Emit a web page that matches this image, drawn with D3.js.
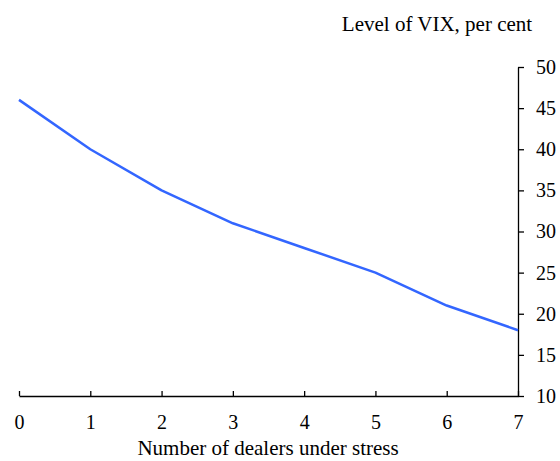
<!DOCTYPE html>
<html>
<head>
<meta charset="utf-8">
<script src="https://cdn.jsdelivr.net/npm/d3@7"></script>
<style>
  html, body { margin: 0; padding: 0; background: #fff; }
  svg { display: block; }
  text { font-family: "Liberation Serif", "Times New Roman", serif; fill: #000; }
</style>
</head>
<body>
<svg id="chart" width="560" height="461"></svg>
<script>
const dealers = [0, 1, 2, 3, 4, 5, 6, 7];
const vixLevel = [46, 40, 35, 31, 28, 25, 21, 18];
const yTicks = [10, 15, 20, 25, 30, 35, 40, 45, 50];
const xTicks = [0, 1, 2, 3, 4, 5, 6, 7];
const xTitle = "Number of dealers under stress";
const yTitle = "Level of VIX, per cent";

(function () {
const svg = d3.select("#chart");
const pLeft = 19, pRight = 518, pTop = 67, pBottom = 396;

const x = d3.scaleLinear().domain([0, 7]).range([pLeft, pRight]);
const y = d3.scaleLinear().domain([10, 50]).range([pBottom, pTop]);

// x axis (ticks pointing up)
const xAxis = d3.axisBottom(x).tickValues(xTicks).tickSizeInner(-5).tickSizeOuter(0).tickPadding(0).tickFormat(d3.format("d"));
const gx = svg.append("g").attr("transform", `translate(0,${pBottom})`).call(xAxis);
gx.select(".domain").attr("stroke", "#000").attr("stroke-width", 1.3);
gx.selectAll(".tick line").attr("stroke", "#000").attr("stroke-width", 1.3);
gx.selectAll(".tick text").attr("y", 33).attr("dy", 0)
  .style("font-family", '"Liberation Serif", serif').style("font-size", "20px").attr("fill", "#000");

// y axis on the right (ticks pointing right)
const yAxis = d3.axisRight(y).tickValues(yTicks).tickSizeInner(6).tickSizeOuter(0).tickPadding(12).tickFormat(d3.format("d"));
const gy = svg.append("g").attr("transform", `translate(${pRight},0)`).call(yAxis);
gy.select(".domain").attr("stroke", "#000").attr("stroke-width", 1.3);
gy.selectAll(".tick line").attr("stroke", "#000").attr("stroke-width", 1.3);
gy.selectAll(".tick text").style("font-family", '"Liberation Serif", serif').style("font-size", "20px").attr("fill", "#000");

// line
const data = dealers.map((d, i) => ({ x: d, y: vixLevel[i] }));
svg.append("path")
  .datum(data)
  .attr("fill", "none")
  .attr("stroke", "#3366ff")
  .attr("stroke-width", 2.5)
  .attr("stroke-linejoin", "round")
  .attr("d", d3.line().x(d => x(d.x)).y(d => y(d.y)));

// titles
svg.append("text").attr("x", 437).attr("y", 31).attr("text-anchor", "middle")
  .style("font-size", "21px").text(yTitle);
svg.append("text").attr("x", 268).attr("y", 455).attr("text-anchor", "middle")
  .style("font-size", "21px").text(xTitle);
})();
</script>
</body>
</html>
